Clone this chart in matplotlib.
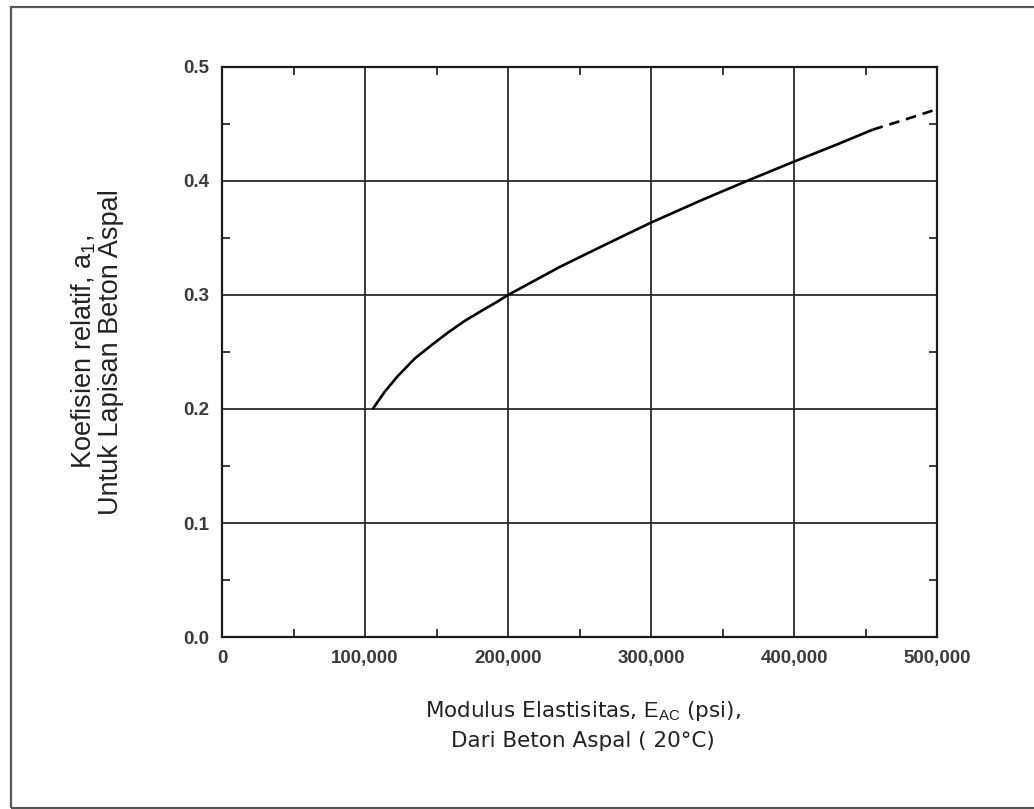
import numpy as np
import matplotlib.pyplot as plt
from matplotlib.patches import Rectangle
from matplotlib.ticker import FuncFormatter, MultipleLocator

plt.rcParams['font.family'] = ['Liberation Sans', 'DejaVu Sans']
plt.rcParams['mathtext.fontset'] = 'custom'
plt.rcParams['mathtext.rm'] = 'Liberation Sans'

# kurva a1 vs modulus
e_solid = [105400, 114000, 123000, 135000, 147000, 158000, 170000, 182000,
           193000, 200000, 236000, 271000, 300000, 335000, 367000, 400000,
           430000, 455000]
a1_solid = [0.200, 0.2155, 0.229, 0.2445, 0.2565, 0.267, 0.2775, 0.2865,
            0.2945, 0.300, 0.3245, 0.346, 0.3635, 0.383, 0.400, 0.417,
            0.432, 0.445]
# ekstrapolasi (garis putus-putus)
e_dash = [455000, 478000, 500000]
a1_dash = [0.445, 0.454, 0.463]

x_ticks = [0, 100000, 200000, 300000, 400000, 500000]
y_ticks = [0.0, 0.1, 0.2, 0.3, 0.4, 0.5]

fig = plt.figure(figsize=(10.34, 8.09), dpi=100)
ax = fig.add_axes([0.2147, 0.2126, 0.6915, 0.7046])

ax.plot(e_solid, a1_solid, '-', color='black', lw=1.9, solid_capstyle='butt',
        solid_joinstyle='round')
ax.plot(e_dash, a1_dash, '--', color='black', lw=1.9, dashes=(4, 2.6))

ax.set_xlim(0, 500000)
ax.set_ylim(0, 0.5)
ax.set_xticks(x_ticks)
ax.set_yticks(y_ticks)
ax.xaxis.set_minor_locator(MultipleLocator(50000))
ax.yaxis.set_minor_locator(MultipleLocator(0.05))
ax.xaxis.set_major_formatter(FuncFormatter(lambda v, p: '{:,}'.format(int(v))))
ax.yaxis.set_major_formatter(FuncFormatter(lambda v, p: '%.1f' % v))

ax.grid(True, which='major', color='#2a2a2a', lw=1.3)
ax.tick_params(which='major', length=0, pad=9, labelsize=13.5, labelcolor='#3a3a3a')
for lbl in ax.get_xticklabels() + ax.get_yticklabels():
    lbl.set_fontweight('bold')
ax.tick_params(which='minor', direction='in', length=6, width=1.3, color='#2a2a2a',
               top=True, right=True)
for s in ax.spines.values():
    s.set_linewidth(1.6)
    s.set_color('#1a1a1a')

fig.text(97 / 1034, 1 - 352 / 809,
         'Koefisien relatif, $\\mathrm{a_1}$,\nUntuk Lapisan Beton Aspal',
         rotation=90, ha='center', va='center', multialignment='center',
         fontsize=19.5, color='#222222', linespacing=1.0)
fig.text(583 / 1034, 1 - 725 / 809,
         'Modulus Elastisitas, $\\mathrm{E_{AC}}$ (psi),\nDari Beton Aspal ( 20°C)',
         ha='center', va='center', multialignment='center',
         fontsize=15.5, color='#222222', linespacing=1.55,
         family=['DejaVu Sans'])

# bingkai luar
fig.add_artist(Rectangle((11 / 1034, 1 / 809), 1.0, 801 / 809, transform=fig.transFigure,
                         fill=False, ec='#555555', lw=1.6, clip_on=False))

fig.savefig('out.png', dpi=100)
